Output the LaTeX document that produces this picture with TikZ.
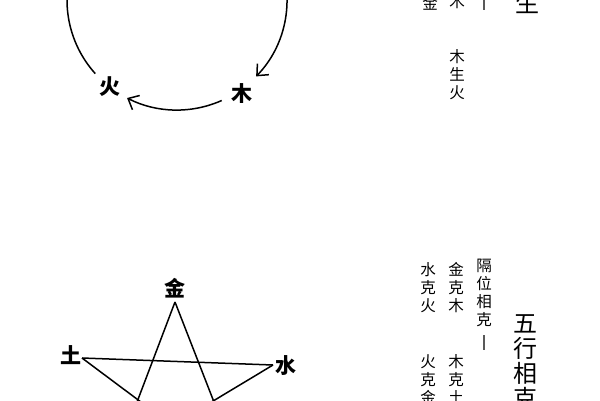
\documentclass[tikz,border=0pt]{standalone}
\usepackage{fontspec}
\newfontfamily\cjk{Noto Sans CJK SC}
\usetikzlibrary{arrows.meta,positioning}

\begin{document}
\begin{tikzpicture}[x=1pt,y=-1pt]
		\tikzstyle{Elem}	= [font=\cjk\bfseries\fontsize{21}{21}\selectfont, inner sep=0pt]
		\tikzstyle{Col}		= [font=\cjk\fontsize{15.5}{18}\selectfont, align=center, inner sep=0pt, anchor=north]
		\tikzstyle{Title}	= [font=\cjk\fontsize{24}{25}\selectfont, align=center, inner sep=0pt, anchor=north]
		\tikzstyle{Line}	= [line width=1.5pt]
		\tikzstyle{Flow}	= [Line, -{Straight Barb[length=9pt,width=16pt]}]
		\tikzstyle{Dash}	= [line width=1.2pt, gray!70!black]

		\useasboundingbox (0,0) rectangle (600,400);
		\clip (0,0) rectangle (600,400);
		\fill [white] (0,0) rectangle (600,400);

		% xiang sheng circle
		\node (huo) at (110,87) [Elem] {火};
		\node (mu) at (242,94) [Elem] {木};
		\coordinate (c0) at (177,0);
		\coordinate (a0) at (177+110*cos 200, 110*sin 200);
		\coordinate (a1) at (177+110*cos -20, 110*sin -20);
		\coordinate (a2) at (177+110*cos 66, 110*sin 66);

		\draw (a0) arc (200:138:110) [Line];
		\draw (a1) arc (-20:44:110) [Flow];
		\draw (a2) arc (66:117:110) [Flow];

		% xiang sheng text
		\node (s1) at (430,-4) [Col] {金};
		\node (s2) at (457,-6) [Col] {木};
		\coordinate (d0) at (484,0);
		\coordinate (d1) at (484,10);
		\draw (d0) -- (d1) [Dash];
		\node (t1) at (527,-8) [Title] {生};
		\node (s3) at (457,49) [Col] {木\\生\\火};

		% xiang ke star
		\coordinate (vJin) at (175,302);
		\coordinate (vTu) at (82,358);
		\coordinate (vShui) at (273,365);
		\coordinate (vBL) at (115,460);
		\coordinate (vBR) at (244,479);
		\node (jin) at (175,288) [Elem] {金};
		\node (tu) at (71,355) [Elem] {土};
		\node (shui) at (286,366) [Elem] {水};

		\draw [-] (vJin) -- (vBL) [Line];
		\draw [-] (vJin) -- (vBR) [Line];
		\draw [-] (vTu) -- (vShui) [Line];
		\draw [-] (vTu) -- (vBR) [Line];
		\draw [-] (vShui) -- (vBL) [Line];

		% xiang ke text
		\node (k1) at (428,262) [Col] {水\\克\\火};
		\node (k2) at (456,262) [Col] {金\\克\\木};
		\node (k3) at (484,259) [Col] {隔\\位\\相\\克};
		\coordinate (d2) at (484,335);
		\coordinate (d3) at (484,350);
		\draw (d2) -- (d3) [Dash];
		\node (k4) at (428,354) [Col] {火\\克\\金};
		\node (k5) at (456,354) [Col] {木\\克\\土};
		\node (t2) at (525,314) [Title] {五\\行\\相\\克};
	\end{tikzpicture}
\end{document}
